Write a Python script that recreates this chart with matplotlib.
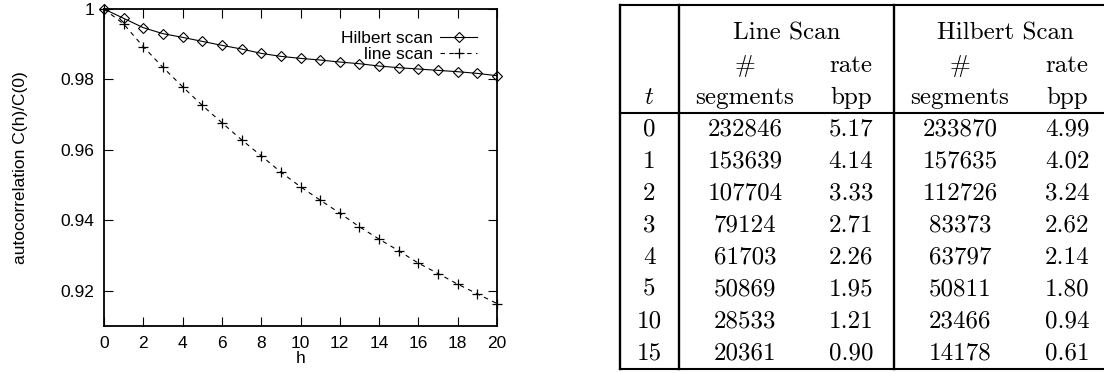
import matplotlib
matplotlib.use("Agg")
import matplotlib.pyplot as plt
from matplotlib.ticker import FuncFormatter, MultipleLocator

# ---------------- data ----------------
h = list(range(0, 21))
hilbert_scan = [1.0, 0.99735, 0.99469, 0.99299, 0.99194, 0.9908, 0.98967, 0.98863,
                0.98739, 0.98654, 0.98597, 0.9855, 0.98493, 0.98445, 0.98379,
                0.98332, 0.98294, 0.98256, 0.98218, 0.9817, 0.98104]
line_scan = [1.0, 0.99573, 0.98929, 0.98341, 0.97791, 0.97261, 0.96768, 0.96284,
             0.95829, 0.95365, 0.94948, 0.94569, 0.94199, 0.9381, 0.9346,
             0.93128, 0.92777, 0.92483, 0.9218, 0.91905, 0.9163]

t_values = ["0", "1", "2", "3", "4", "5", "10", "15"]
line_segments = ["232846", "153639", "107704", "79124", "61703", "50869", "28533", "20361"]
line_rate = ["5.17", "4.14", "3.33", "2.71", "2.26", "1.95", "1.21", "0.90"]
hilbert_segments = ["233870", "157635", "112726", "83373", "63797", "50811", "23466", "14178"]
hilbert_rate = ["4.99", "4.02", "3.24", "2.62", "2.14", "1.80", "0.94", "0.61"]

# ---------------- figure ----------------
W, H = 1104, 373
fig = plt.figure(figsize=(W / 100, H / 100), dpi=100)
plt.rcParams['font.family'] = ['Liberation Sans', 'DejaVu Sans']

ax = fig.add_axes([104 / W, 1 - 325.7 / H, 393 / W, 316.7 / H])
ax.plot(h, hilbert_scan, color='black', lw=0.8, marker='D', ms=4.8,
        mfc='none', mec='black', mew=0.8, clip_on=False, label='Hilbert scan')
ax.plot(h, line_scan, color='black', lw=0.8, ls=(0, (4, 4)), marker='+', ms=7.5,
        mew=0.9, clip_on=False, label='line scan')

ax.set_xlim(0, 20)
ax.set_ylim(0.91, 1.0)
ax.xaxis.set_major_locator(MultipleLocator(2))
ax.set_yticks([0.92, 0.94, 0.96, 0.98, 1.0])
ax.yaxis.set_major_formatter(FuncFormatter(lambda v, p: f"{v:g}"))
ax.tick_params(direction='in', length=6.5, width=0.8, top=True, right=True,
               labelsize=12.5, colors='black')
ax.tick_params(axis='x', pad=7.5)
ax.tick_params(axis='y', pad=7)
for s in ax.spines.values():
    s.set_linewidth(1.3)
ax.set_xlabel('h', fontsize=12.5, labelpad=0)
ax.set_ylabel('autocorrelation C(h)/C(0)', fontsize=12.5, labelpad=23)

leg = ax.legend(loc='upper right', bbox_to_anchor=(0.949, 0.93), frameon=False,
                markerfirst=False, fontsize=12.5, handlelength=2.1, handletextpad=0.45,
                labelspacing=0.05, borderpad=0, borderaxespad=0)

# ---------------- table ----------------
tab = fig.add_axes([0, 0, 1, 1])
tab.set_xlim(0, W)
tab.set_ylim(H, 0)
tab.axis('off')

lw = 1.5
x_left, x_t, x_mid, x_right = 620, 679, 894, 1110
y_top, y_head, y_bot = 5, 113, 369
tab.plot([x_left, x_right], [y_top, y_top], color='black', lw=lw, solid_capstyle='projecting')
tab.plot([x_left, x_right], [y_bot, y_bot], color='black', lw=lw, solid_capstyle='projecting')
tab.plot([x_left, x_right], [y_head, y_head], color='black', lw=lw)
for xv in (x_left, x_t, x_mid):
    tab.plot([xv, xv], [y_top, y_bot], color='black', lw=lw + 0.2)

fs = 18
rm = dict(family=['cmr10', 'DejaVu Serif'], fontsize=fs, ha='center', va='baseline', color='black')
cx = [649, 745, 851, 960, 1067]

tab.text((x_t + x_mid) / 2, 40, 'Line Scan', **rm)
tab.text(1005, 40, 'Hilbert Scan', **rm)
tab.text(cx[1], 72, '#', **rm)
tab.text(cx[2], 72, 'rate', **rm)
tab.text(cx[3], 72, '#', **rm)
tab.text(cx[4], 72, 'rate', **rm)
tab.text(cx[0], 104, 't', family=['cmmi10', 'DejaVu Serif'], fontsize=fs,
         ha='center', va='baseline', color='black')
tab.text(cx[1], 104, 'segments', **rm)
tab.text(cx[2], 104, 'bpp', **rm)
tab.text(cx[3], 104, 'segments', **rm)
tab.text(cx[4], 104, 'bpp', **rm)

for i in range(len(t_values)):
    yb = 136 + 32 * i
    tab.text(cx[0], yb, t_values[i], **rm)
    tab.text(cx[1], yb, line_segments[i], **rm)
    tab.text(cx[2], yb, line_rate[i], **rm)
    tab.text(cx[3], yb, hilbert_segments[i], **rm)
    tab.text(cx[4], yb, hilbert_rate[i], **rm)

fig.savefig('out.png', dpi=100)
